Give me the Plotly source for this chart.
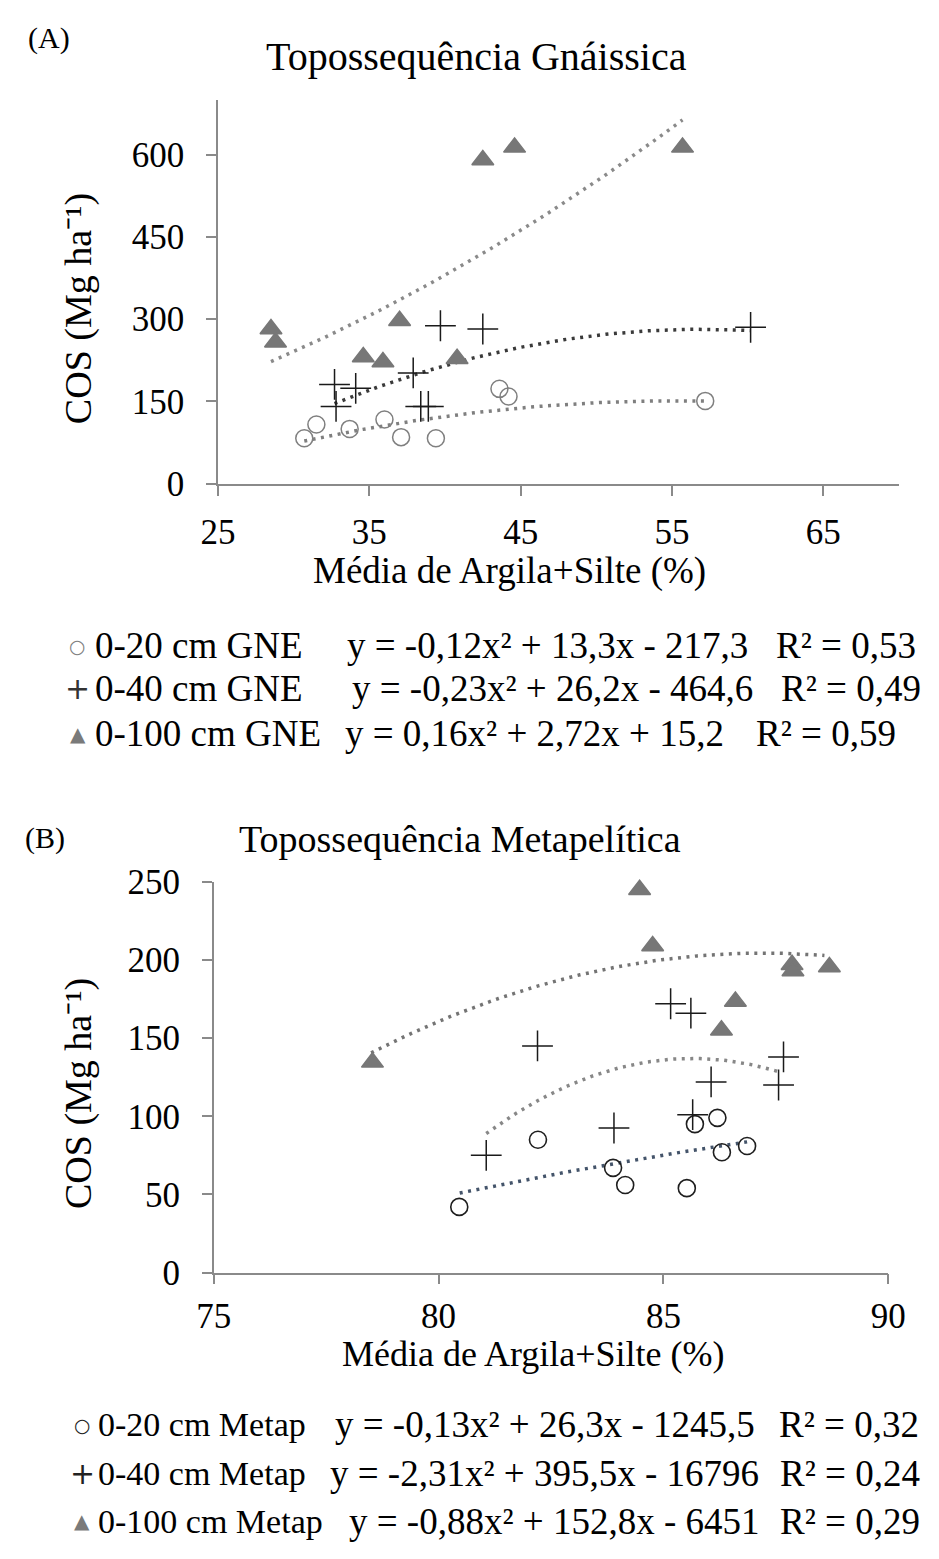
import numpy as np
import plotly.graph_objects as go

W, H = 939, 1559
FONT = "Liberation Serif"

# ---------------- data (A) Topossequência Gnáissica ----------------
gne_x_020 = [30.7, 31.5, 33.7, 36.0, 37.1, 39.4, 43.6, 44.2, 57.2]
gne_y_020 = [83, 108, 100, 117, 85, 83, 173, 159, 151]
gne_x_040 = [32.7, 32.8, 34.1, 37.9, 38.4, 38.9, 39.7, 42.5, 60.2]
gne_y_040 = [181, 141, 174, 202, 141, 141, 288, 282, 285]
gne_x_0100 = [28.5, 28.8, 34.6, 35.9, 37.0, 40.8, 42.5, 44.6, 55.7]
gne_y_0100 = [282, 258, 231, 222, 297, 228, 590, 613, 613]

# trendline coefficients printed on chart (A): a, b, c  (y = a x^2 + b x + c)
gne_coef_020 = [-0.12, 13.3, -217.3]
gne_coef_040 = [-0.23, 26.2, -464.6]
gne_coef_0100 = [0.16, 2.72, 15.2]

# ---------------- data (B) Topossequência Metapelítica ----------------
met_x_020 = [80.46, 82.21, 83.88, 84.15, 85.52, 85.70, 86.20, 86.30, 86.86]
met_y_020 = [42, 85, 67, 56, 54, 95, 99, 77, 81]
met_x_040 = [81.06, 82.20, 83.90, 85.16, 85.61, 85.65, 86.06, 87.56, 87.67]
met_y_040 = [75, 145, 92.5, 172, 166, 101, 122, 120, 138]
met_x_0100 = [78.53, 84.47, 84.76, 86.29, 86.60, 87.86, 87.88, 88.69]
met_y_0100 = [134.5, 245, 209, 155, 173.5, 197, 193, 195.5]

# trendlines of chart (B) (printed coefficients are rounded)
met_trend_x_020 = [80.47, 83.87, 86.86]
met_trend_y_020 = [50.9, 69.6, 83.6]
met_trend_x_040 = [81.06, 83.05, 85.51, 87.57]
met_trend_y_040 = [89.2, 121.0, 137.6, 128.2]
met_trend_x_0100 = [78.50, 82.62, 86.72, 88.58]
met_trend_y_0100 = [140.7, 186.4, 204.7, 202.6]

gne_xticks = [25, 35, 45, 55, 65]
gne_yticks = [0, 150, 300, 450, 600]
met_xticks = [75, 80, 85, 90]
met_yticks = [0, 50, 100, 150, 200, 250]

gne_labels = ["0-20 cm GNE", "0-40 cm GNE", "0-100 cm GNE"]
gne_eqs = ["y = -0,12x² + 13,3x - 217,3",
           "y = -0,23x² + 26,2x - 464,6",
           "y = 0,16x² + 2,72x + 15,2"]
gne_r2 = ["R² = 0,53", "R² = 0,49", "R² = 0,59"]
met_labels = ["0-20 cm Metap", "0-40 cm Metap", "0-100 cm Metap"]
met_eqs = ["y = -0,13x² + 26,3x - 1245,5",
           "y = -2,31x² + 395,5x - 16796",
           "y = -0,88x² + 152,8x - 6451"]
met_r2 = ["R² = 0,32", "R² = 0,24", "R² = 0,29"]


def pxx(x):
    return x / W


def pyy(y):
    return 1 - y / H


fig = go.Figure()
DASH = "3px,5.5px"


def add_markers(xs, ys, xa, ya, symbol, size, mcolor, lw):
    fig.add_trace(go.Scatter(
        x=xs, y=ys, xaxis=xa, yaxis=ya, mode="markers", showlegend=False,
        marker=dict(symbol=symbol, size=size, color=mcolor,
                    line=dict(width=lw, color=mcolor)),
        cliponaxis=False))


def add_curve(coef, x0, x1, xa, ya, color):
    xl = np.linspace(x0, x1, 90)
    fig.add_trace(go.Scatter(
        x=xl, y=np.polyval(coef, xl), xaxis=xa, yaxis=ya, mode="lines",
        showlegend=False, line=dict(color=color, width=3.5, dash=DASH)))


# chart A
add_curve(gne_coef_020, min(gne_x_020), max(gne_x_020), "x", "y", "#7f7f7f")
add_curve(gne_coef_040, min(gne_x_040), max(gne_x_040), "x", "y", "#3a3a3a")
add_curve(gne_coef_0100, min(gne_x_0100), max(gne_x_0100), "x", "y", "#8a8a8a")
add_markers(gne_x_020, gne_y_020, "x", "y", "circle-open", 17, "#7f7f7f", 1.5)
add_markers(gne_x_040, gne_y_040, "x", "y", "cross-thin-open", 22, "#1a1a1a", 1.5)
add_markers(gne_x_0100, gne_y_0100, "x", "y", "triangle-up", 19, "#777777", 1.5)

# chart B
for tx, ty, col in [(met_trend_x_020, met_trend_y_020, "#44546a"),
                    (met_trend_x_040, met_trend_y_040, "#878787"),
                    (met_trend_x_0100, met_trend_y_0100, "#747474")]:
    add_curve(np.polyfit(tx, ty, 2), tx[0], tx[-1], "x2", "y2", col)
add_markers(met_x_020, met_y_020, "x2", "y2", "circle-open", 17, "#1e1e1e", 1.6)
add_markers(met_x_040, met_y_040, "x2", "y2", "cross-thin-open", 22, "#1a1a1a", 1.5)
add_markers(met_x_0100, met_y_0100, "x2", "y2", "triangle-up", 19, "#777777", 1.5)

axis_common = dict(showline=True, linecolor="#8a8a8a", linewidth=1.5, ticks="outside",
                   ticklen=10, tickcolor="#8a8a8a", tickwidth=1.5, showgrid=False,
                   zeroline=False, tickfont=dict(family=FONT, size=35, color="#000"))

fig.update_layout(
    width=W, height=H, margin=dict(l=0, r=0, t=0, b=0),
    paper_bgcolor="white", plot_bgcolor="white",
    xaxis=dict(domain=[208 / W, 916 / W], range=[25, 70], tickvals=gne_xticks,
               anchor="y", ticklabelstandoff=6, **axis_common),
    yaxis=dict(domain=[pyy(476.7), pyy(82.7)], range=[0, 700], tickvals=gne_yticks,
               anchor="x", ticklabelstandoff=15, **axis_common),
    xaxis2=dict(domain=[203.5 / W, 905 / W], range=[75, 90], tickvals=met_xticks,
                anchor="y2", ticklabelstandoff=2, **axis_common),
    yaxis2=dict(domain=[pyy(1285.7), pyy(885)], range=[0, 250], tickvals=met_yticks,
                anchor="x2", ticklabelstandoff=15, **axis_common),
)

ann = []


def text(x, y, s, size, xanchor="center", yanchor="middle", color="#000", angle=0, fam=FONT):
    ann.append(dict(x=pxx(x), y=pyy(y), xref="paper", yref="paper", text=s, showarrow=False,
                    xanchor=xanchor, yanchor=yanchor, textangle=angle,
                    font=dict(family=fam, size=size, color=color)))


# panel labels & titles
text(8, 20, "(A)", 30, xanchor="left")
text(477, 38, "Topossequência Gnáissica", 40)
text(5, 840, "(B)", 30, xanchor="left")
text(460, 841, "Topossequência Metapelítica", 38)

# axis titles
text(511, 566, "Média de Argila+Silte (%)", 37)
text(536, 1369, "Média de Argila+Silte (%)", 36)
text(63, 297, "COS (Mg ha⁻¹)", 38, angle=-90)
text(63, 1102, "COS (Mg ha⁻¹)", 38, angle=-90)

# legend A
sym_fam = "DejaVu Sans"
rows_a = [643, 687, 733]
syms_a = [("○", "#808080", 19), ("+", "#333333", 30), ("▲", "#7a7a7a", 20)]
eqx_a = [340, 345, 338]
rx_a = [786, 791, 765]
for i in range(3):
    s, c, sz = syms_a[i]
    text(62, rows_a[i], s, sz, color=c, fam=sym_fam)
    text(78, rows_a[i], gne_labels[i], 37, xanchor="left")
    text(eqx_a[i], rows_a[i], gne_eqs[i], 37, xanchor="left")
    text(rx_a[i], rows_a[i], gne_r2[i], 37, xanchor="left")

# legend B
rows_b = [1442, 1492, 1541]
syms_b = [("○", "#222222", 19), ("+", "#222222", 30), ("▲", "#7a7a7a", 20)]
eqx_b = [328, 322, 342]
rx_b = [789, 790, 790]
for i in range(3):
    s, c, sz = syms_b[i]
    text(67, rows_b[i], s, sz, color=c, fam=sym_fam)
    text(81, rows_b[i], met_labels[i], 34, xanchor="left")
    text(eqx_b[i], rows_b[i], met_eqs[i], 37, xanchor="left")
    text(rx_b[i], rows_b[i], met_r2[i], 37, xanchor="left")

fig.update_layout(annotations=ann)
fig.write_html("out.html")
